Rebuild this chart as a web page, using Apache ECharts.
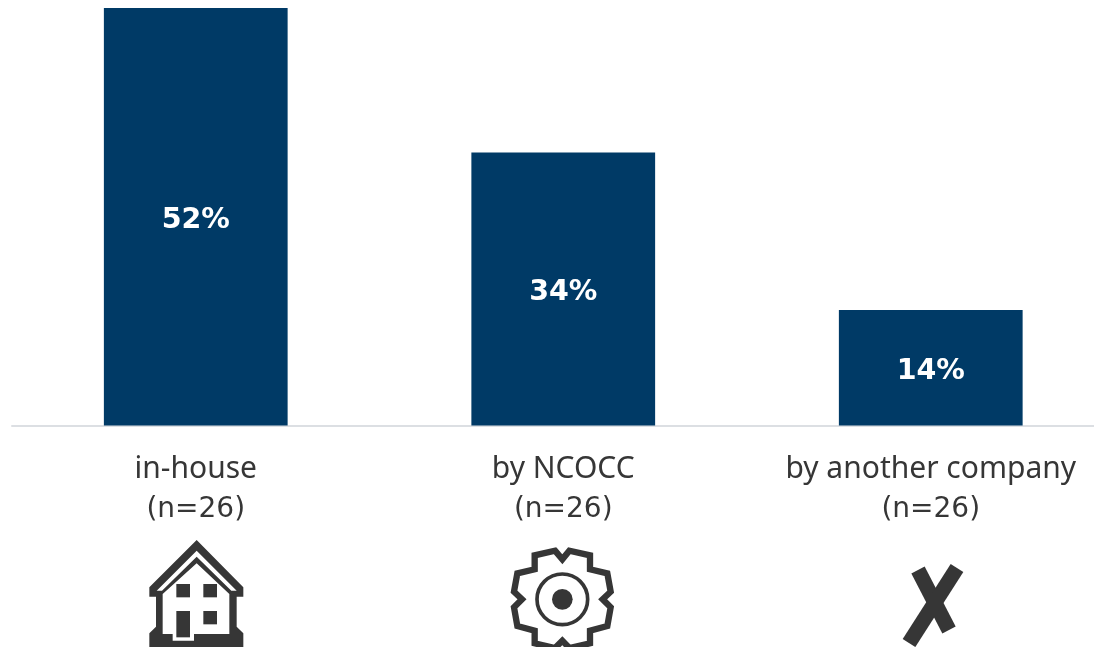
<!DOCTYPE html>
<html><head><meta charset="utf-8">
<style>html,body{margin:0;padding:0;background:#fff;overflow:hidden}#c{width:1094px;height:647px}</style>
<script src="https://cdn.jsdelivr.net/npm/echarts@6/dist/echarts.min.js"></script>
</head><body><div id="c"></div>
<script>
const categories = ['in-house', 'by NCOCC', 'by another company'];
const sampleSizes = ['(n=26)', '(n=26)', '(n=26)'];
const shares = [52, 34, 14.4];
const DARK = '#363636';
const FONT = '"Noto Sans", Verdana, sans-serif';
const WIDE = '"DejaVu Sans", Verdana, sans-serif';

const rect = (x, y, w, h, fill) => ({type:'rect', shape:{x, y, width:w, height:h}, style:{fill}});
function pathEl(d, style){ return {type:'polygon', shape:{points:d}, style}; }

const houseIcon = {type:'group', x:130, y:530, scaleX:1/3, scaleY:1/3, silent:true, children:[
  pathEl([[200,30],[340,172],[340,200],[320,200],[320,290],[340,310],[340,360],[58,360],[58,310],[78,290],[78,200],[58,200],[58,172]], {fill:DARK}),
  pathEl([[200,62],[320,182],[304,182],[200,80],[96,182],[80,182]], {fill:'#fff'}),
  pathEl([[200,100],[298,192],[298,312],[192,312],[192,332],[128,332],[128,312],[98,312],[98,192]], {fill:'#fff'}),
  rect(139,162,41,40,DARK), rect(220,162,41,40,DARK), rect(220,243,41,40,DARK), rect(139,243,41,79,DARK)
]};

const gearIcon = {type:'group', x:500, y:530, scaleX:1/3, scaleY:1/3, silent:true, children:[
  pathEl([[165,62],[187,88],[208,62],[270,76],[270,118],[322,130],[332,185],[308,208],[332,232],[322,288],[270,302],[270,340],[208,354],[187,332],[165,354],[104,340],[104,302],[52,288],[42,232],[66,208],[42,185],[52,130],[104,118],[104,76]],
    {fill:'#fff', stroke:DARK, lineWidth:19, lineJoin:'miter'}),
  {type:'circle', shape:{cx:187,cy:208,r:76}, style:{fill:'#fff', stroke:DARK, lineWidth:11}},
  {type:'circle', shape:{cx:187,cy:208,r:31}, style:{fill:DARK}}
]};

const crossIcon = {type:'group', silent:true, children:[
  {type:'line', shape:{x1:918,y1:570,x2:949,y2:630}, style:{stroke:DARK, lineWidth:15}},
  {type:'line', shape:{x1:957,y1:568,x2:909,y2:643}, style:{stroke:DARK, lineWidth:15}}
]};

const chart = echarts.init(document.getElementById('c'), null, {renderer:'canvas'});
chart.setOption({
  animation:false,
  backgroundColor:'#fff',
  grid:{left:12, width:1102.5, top:8, height:417.5, containLabel:false, outerBoundsMode:'none'},
  xAxis:{type:'category', data:categories,
    axisLine:{show:true, lineStyle:{color:'#dcdfe3', width:2}},
    axisTick:{show:false},
    axisLabel:{interval:0, margin:24,
      formatter:(v,i)=>'{a|'+v+'}\n{b|'+sampleSizes[i]+'}',
      rich:{
        a:{color:DARK, fontFamily:FONT, fontSize:30, lineHeight:40},
        b:{color:DARK, fontFamily:WIDE, fontSize:28, lineHeight:40}
      }}},
  yAxis:{type:'value', min:0, max:52, show:false, splitLine:{show:false}},
  series:[{type:'bar', data:shares, barWidth:'50%', itemStyle:{color:'#003a66'},
    label:{show:true, position:'inside', offset:[0,3.5], color:'#fff', fontFamily:WIDE, fontWeight:'bold', fontSize:28.5,
      formatter:p=>Math.round(p.value)+'%'}}],
  graphic:[houseIcon, gearIcon, crossIcon]
});
</script></body></html>
